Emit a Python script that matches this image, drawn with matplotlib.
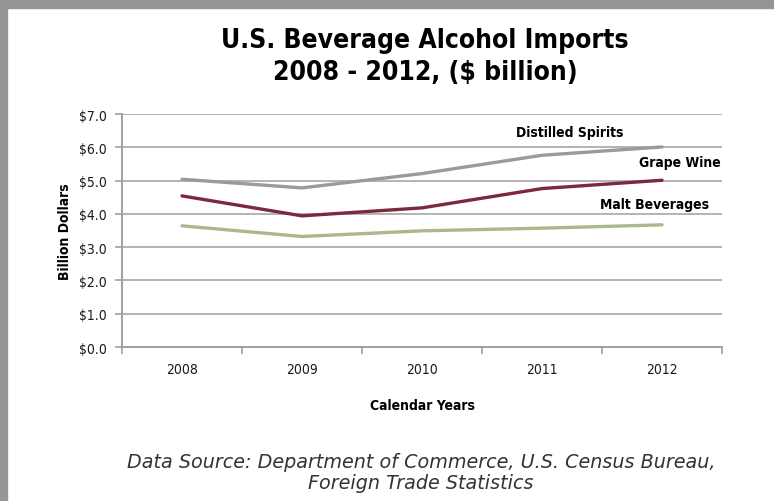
import numpy as np
import matplotlib
matplotlib.use("Agg")
import matplotlib.pyplot as plt
from matplotlib.patches import Rectangle

years = ["2008", "2009", "2010", "2011", "2012"]
spirits = [5.04, 4.78, 5.21, 5.76, 6.01]
wine = [4.54, 3.94, 4.18, 4.76, 5.01]
malt = [3.64, 3.32, 3.49, 3.57, 3.67]
yticks = [0, 1, 2, 3, 4, 5, 6, 7]

cond = dict(family="DejaVu Sans", stretch="condensed")

W, H = 774, 502
fig = plt.figure(figsize=(W / 100, H / 100), dpi=100)
fig.patch.set_facecolor("white")

# grey frame along the top and left edges
fig.patches.append(Rectangle((0, 1 - 9 / H), 1, 9 / H, transform=fig.transFigure,
                             color="#959595", zorder=0))
fig.patches.append(Rectangle((0, 0), 7 / W, 1, transform=fig.transFigure,
                             color="#959595", zorder=0))

ax = fig.add_axes([122 / W, (H - 348) / H, 600 / W, 233 / H])

x = np.arange(len(years))
ax.plot(x, spirits, color="#9a9a9a", lw=2.4, solid_capstyle="round", zorder=3)
ax.plot(x, wine, color="#7a2a3b", lw=2.4, solid_capstyle="round", zorder=3)
ax.plot(x, malt, color="#a9b98e", lw=2.4, solid_capstyle="round", zorder=3)

ax.set_xlim(-0.5, len(years) - 0.5)
ax.set_ylim(0, 7)

ax.set_yticks(yticks)
ax.set_yticklabels(["${:.1f}".format(v) for v in yticks], fontsize=10, **cond)
ax.set_xticks(np.arange(-0.5, len(years)), labels=[])
ax.set_xticks(x, labels=years, minor=True)
for lab in ax.get_xticklabels(minor=True):
    lab.set_family(cond["family"])
    lab.set_stretch(cond["stretch"])
    lab.set_fontsize(10)
ax.tick_params(axis="x", which="minor", length=0, pad=11)
ax.tick_params(axis="x", which="major", length=5, color="#a0a0a0", width=1.2)
ax.tick_params(axis="y", length=5, color="#a0a0a0", width=1.2, pad=6, labelcolor="#1a1a1a")
ax.tick_params(axis="x", which="minor", labelcolor="#1a1a1a")

ax.grid(axis="y", color="#b3b3b3", lw=1.4, zorder=1)
ax.set_axisbelow(True)
for s in ["top", "right"]:
    ax.spines[s].set_visible(False)
for s in ["left", "bottom"]:
    ax.spines[s].set_color("#a0a0a0")
    ax.spines[s].set_linewidth(1.4)

ax.set_ylabel("Billion Dollars", fontweight="bold", fontsize=10, labelpad=5, **cond)
ax.set_xlabel("Calendar Years", fontweight="bold", fontsize=10, labelpad=16, **cond)

# series labels
ax.text(3.23, 6.45, "Distilled Spirits", fontweight="bold", fontsize=10,
        ha="center", va="center", **cond)
ax.text(4.49, 5.55, "Grape Wine", fontweight="bold", fontsize=10,
        ha="right", va="center", **cond)
ax.text(3.94, 4.29, "Malt Beverages", fontweight="bold", fontsize=10,
        ha="center", va="center", **cond)

fig.text(425 / W, 1 - 57 / H, "U.S. Beverage Alcohol Imports\n2008 - 2012, ($ billion)",
         fontweight="bold", fontsize=19, ha="center", va="center",
         linespacing=1.3, **cond)

fig.text(421 / W, 1 - 473 / H,
         "Data Source: Department of Commerce, U.S. Census Bureau,\nForeign Trade Statistics",
         family="DejaVu Sans", style="italic", fontsize=13.8, color="#333333",
         ha="center", va="center", linespacing=1.15)

fig.savefig("out.png", dpi=100)
